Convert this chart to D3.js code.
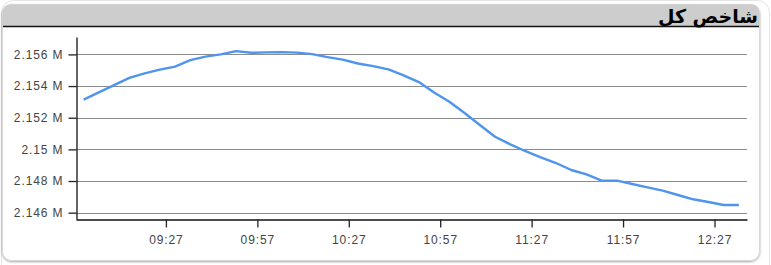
<!DOCTYPE html>
<html>
<head>
<meta charset="utf-8">
<script src="https://cdn.jsdelivr.net/npm/d3@7"></script>
<style>
  body { margin: 0; background: #fff; }
  svg { display: block; }
</style>
</head>
<body>
<div id="canvas"></div>
<script>
"use strict"

// chart data (one point every 5 minutes)
let times = ["09:00", "09:05", "09:10", "09:15", "09:20", "09:25", "09:30", "09:35", "09:40", "09:45",
    "09:50", "09:55", "10:00", "10:05", "10:10", "10:15", "10:20", "10:25", "10:30", "10:35",
    "10:40", "10:45", "10:50", "10:55", "11:00", "11:05", "11:10", "11:15", "11:20", "11:25",
    "11:30", "11:35", "11:40", "11:45", "11:50", "11:55", "12:00", "12:05", "12:10", "12:15",
    "12:20", "12:25", "12:30", "12:35"];
let indexValues = [2153146, 2153601, 2154062, 2154516, 2154800, 2155040, 2155230, 2155640, 2155861, 2156000,
    2156208, 2156101, 2156126, 2156145, 2156113, 2156019, 2155829, 2155671, 2155425, 2155261,
    2155053, 2154680, 2154251, 2153595, 2153014, 2152294, 2151536, 2150798, 2150318, 2149882,
    2149497, 2149138, 2148696, 2148418, 2148020, 2148020, 2147812, 2147603, 2147395, 2147117,
    2146846, 2146675, 2146486, 2146486];
let xTickLabels = ["09:27", "09:57", "10:27", "10:57", "11:27", "11:57", "12:27"];
let yTickValues = [2146000, 2148000, 2150000, 2152000, 2154000, 2156000];
let title = "شاخص کل";

let svgWidth = 771;
let svgHeight = 265;

let parseTime = d3.timeParse("%H:%M");
let parseTimeSec = d3.timeParse("%H:%M:%S");

let svg = d3.select("#canvas")
    .append("svg")
    .attr("width", svgWidth)
    .attr("height", svgHeight);

let defs = svg.append("defs");
let shadow = defs.append("filter")
    .attr("id", "shadow")
    .attr("x", "-5%").attr("y", "-5%")
    .attr("width", "110%").attr("height", "115%");
shadow.append("feDropShadow")
    .attr("dx", 0).attr("dy", 1)
    .attr("stdDeviation", 1.2)
    .attr("flood-color", "#000")
    .attr("flood-opacity", 0.35);

/* faint outer frame peeking out on the right */
svg.append("rect")
    .attr("x", 1.5).attr("y", 0.5)
    .attr("width", 768).attr("height", 280)
    .attr("rx", 12)
    .attr("fill", "none")
    .attr("stroke", "#e4e4e4");

/* panel box */
svg.append("rect")
    .attr("x", 2.5).attr("y", 4.5)
    .attr("width", 757).attr("height", 256)
    .attr("rx", 9)
    .attr("fill", "#fff")
    .attr("stroke", "#d8d8d8")
    .attr("filter", "url(#shadow)");

/* header band, only top corners rounded */
let hx = 2.5, hy = 4.5, hw = 757, hh = 21.5, hr = 9;
svg.append("path")
    .attr("d", `M${hx},${hy + hh} V${hy + hr} Q${hx},${hy} ${hx + hr},${hy} H${hx + hw - hr} Q${hx + hw},${hy} ${hx + hw},${hy + hr} V${hy + hh} Z`)
    .attr("fill", "#cdcdcd");

svg.append("line")
    .attr("x1", 3).attr("x2", 759)
    .attr("y1", 26.5).attr("y2", 26.5)
    .attr("stroke", "#111")
    .attr("stroke-width", 1.3);

svg.append("text")
    .attr("x", 758)
    .attr("y", 23)
    .attr("text-anchor", "end")
    .attr("font-family", "DejaVu Sans, sans-serif")
    .attr("font-size", 19)
    .attr("font-weight", "bold")
    .attr("fill", "#000")
    .text(title);

/* scales */
let plotLeft = 76, plotRight = 747, plotTop = 37, plotBottom = 219;

let xScale = d3.scaleTime()
    .domain([parseTimeSec("08:57:30"), parseTimeSec("12:37:40")])
    .range([plotLeft, plotRight]);

let yScale = d3.scaleLinear()
    .domain([2145600, 2157100])
    .range([plotBottom, plotTop]);

let fmtM = v => d3.format(".3~f")(v / 1e6) + " M";

/* horizontal grid */
svg.append("g")
    .selectAll("line")
    .data(yTickValues)
    .join("line")
    .attr("x1", plotLeft)
    .attr("x2", plotRight)
    .attr("y1", d => Math.round(yScale(d)) + 0.5)
    .attr("y2", d => Math.round(yScale(d)) + 0.5)
    .attr("stroke", "#8c8c8c")
    .attr("stroke-width", 1);

/* y axis */
let yAxis = svg.append("g")
    .attr("transform", `translate(${plotLeft + 0.5},0)`)
    .call(d3.axisLeft(yScale)
        .tickValues(yTickValues)
        .tickFormat(fmtM)
        .tickSize(8)
        .tickPadding(5)
        .tickSizeOuter(0));

/* x axis */
let xAxis = svg.append("g")
    .attr("transform", `translate(0,${plotBottom + 0.5})`)
    .call(d3.axisBottom(xScale)
        .tickValues(xTickLabels.map(parseTime))
        .tickFormat(d3.timeFormat("%H:%M"))
        .tickSize(8)
        .tickPadding(8)
        .tickSizeOuter(0));

[yAxis, xAxis].forEach(function (g) {
    g.select(".domain").attr("stroke", "#111").attr("stroke-width", 1.3);
    g.selectAll(".tick line").attr("stroke", "#222").attr("stroke-width", 1.3);
    g.selectAll(".tick text")
        .attr("font-family", "Liberation Sans, Arial, sans-serif")
        .attr("font-size", 12)
        .attr("letter-spacing", 0.9)
        .attr("fill", "#444");
});

/* index line */
let line = d3.line()
    .x((d, i) => xScale(parseTime(times[i])))
    .y(d => yScale(d));

svg.append("path")
    .datum(indexValues)
    .attr("d", line)
    .attr("fill", "none")
    .attr("stroke", "#4f94ee")
    .attr("stroke-width", 2.4)
    .attr("stroke-linejoin", "round");
</script>
</body>
</html>
